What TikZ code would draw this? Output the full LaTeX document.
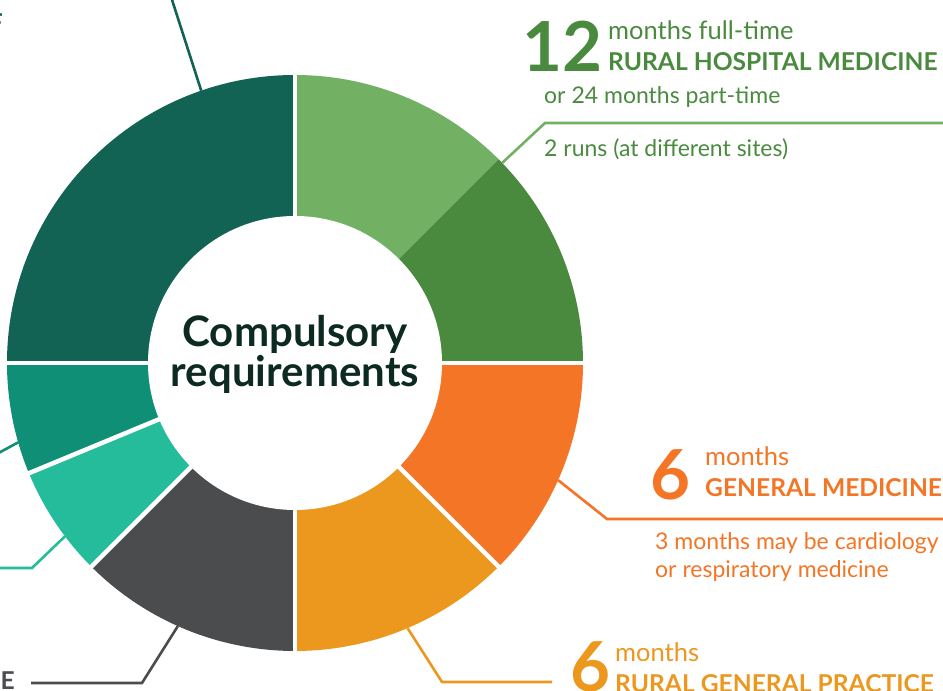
\documentclass[tikz,border=0pt]{standalone}
\usepackage{fontspec}
\setmainfont{Lato}
\usepackage{tikz}
\usetikzlibrary{
    positioning,           % Relative positioning
    calc                   % Coordinate calculations
}
\definecolor{pineGreen}{HTML}{126354}
\definecolor{leafGreen}{HTML}{72B163}
\definecolor{fernGreen}{HTML}{4A8A3F}
\definecolor{medOrange}{HTML}{F37525}
\definecolor{gpAmber}{HTML}{EC971E}
\definecolor{slateGrey}{HTML}{4B4C4E}
\definecolor{aquaGreen}{HTML}{25BC9C}
\definecolor{seaGreen}{HTML}{0F9076}
\definecolor{titleInk}{HTML}{0C2A22}

\tikzset{leader/.style={line width=2.6pt, line join=miter}}
\tikzset{ringgap/.style={white, line width=4.5pt}}
\tikzset{bignum/.style={inner sep=0pt, anchor=base west, font=\fontsize{69}{69}\selectfont\bfseries}}
\tikzset{months/.style={inner sep=0pt, anchor=base west, font=\fontsize{25.5}{28}\selectfont}}
\tikzset{note/.style={inner sep=0pt, anchor=base west, font=\fontsize{23}{26}\selectfont}}
\tikzset{rotlabel/.style={inner sep=0pt, anchor=base west, font=\fontsize{24.6}{27}\selectfont\bfseries}}
\tikzset{titletext/.style={inner sep=0pt, anchor=base, text=titleInk, font=\fontsize{42}{42}\selectfont\bfseries}}

\begin{document}
\begin{tikzpicture}[x=1pt, y=1pt]
    \useasboundingbox (0,0) rectangle (943,691);
    \coordinate (ctr) at (295,328);
    % ring segments: start / end / colour
    \foreach \a/\b/\c in {90/180/pineGreen, 45/90/leafGreen, 0/45/fernGreen, -45/0/medOrange,
        -90/-45/gpAmber, -135/-90/slateGrey, -157.5/-135/aquaGreen, -180/-157.5/seaGreen}
        \fill[\c] (ctr) -- ($(ctr)+(\a:288pt)$) arc[start angle=\a, end angle=\b, radius=288pt] -- cycle;
    % white gaps
    \foreach \a in {90, 0, -45, -90, -135, -157.5, 180}
        \draw[ringgap] (ctr) -- ($(ctr)+(\a:292pt)$);
    \fill[white] (ctr) circle[radius=147pt];
    \node[titletext] (titleA) at (295,344) {Compulsory};
    \node[titletext] (titleB) at (295,304) {requirements};

    % leader lines
    \coordinate (pineEnd) at ($(ctr)+(109:288pt)$);
    \coordinate (pineTail) at (165,713);
    \draw[leader, pineGreen] (pineEnd) -- (pineTail);
    \coordinate (rhmEnd) at ($(ctr)+(44:288pt)$);
    \coordinate (rhmBend) at (545,568);
    \coordinate (rhmTail) at (950,568);
    \draw[leader, leafGreen] (rhmEnd) -- (rhmBend) -- (rhmTail);
    \coordinate (gmEnd) at ($(ctr)+(-24:288pt)$);
    \coordinate (gmBend) at (607,172);
    \coordinate (gmTail) at (950,172);
    \draw[leader, medOrange] (gmEnd) -- (gmBend) -- (gmTail);
    \coordinate (gpEnd) at ($(ctr)+(-67:288pt)$);
    \coordinate (gpBend) at (442,9);
    \coordinate (gpTail) at (552,9);
    \draw[leader, gpAmber] (gpEnd) -- (gpBend) -- (gpTail);
    \coordinate (greyEnd) at ($(ctr)+(-114:288pt)$);
    \coordinate (greyBend) at (142,8);
    \coordinate (greyTail) at (31,8);
    \draw[leader, slateGrey] (greyEnd) -- (greyBend) -- (greyTail);
    \coordinate (aquaEnd) at ($(ctr)+(-143:288pt)$);
    \coordinate (aquaBend) at (32,123);
    \coordinate (aquaTail) at (-10,123);
    \draw[leader, aquaGreen] (aquaEnd) -- (aquaBend) -- (aquaTail);
    \coordinate (seaEnd) at ($(ctr)+(-164:288pt)$);
    \coordinate (seaTail) at (-18,229);
    \draw[leader, seaGreen] (seaEnd) -- (seaTail);

    % rural hospital medicine
    \node[bignum, text=fernGreen] (rhmNum) at (522,619) {12};
    \node[months, text=fernGreen] (rhmMonths) at (608,651) {months full-time};
    \node[rotlabel, text=fernGreen] (rhmName) at (608,620) {RURAL HOSPITAL MEDICINE};
    \node[note, text=fernGreen] (rhmPart) at (544,587) {or 24 months part-time};
    \node[note, text=fernGreen] (rhmRuns) at (544,534) {2 runs (at different sites)};
    % general medicine
    \node[bignum, text=medOrange] (gmNum) at (650,191) {6};
    \node[months, text=medOrange] (gmMonths) at (705,225) {months};
    \node[rotlabel, text=medOrange] (gmName) at (705,194) {GENERAL MEDICINE};
    \node[note, text=medOrange] (gmNote) at (655,141) {3 months may be cardiology};
    \node[note, text=medOrange] (gmNoteB) at (655,113) {or respiratory medicine};
    % rural general practice
    \node[bignum, text=gpAmber] (gpNum) at (570,-1) {6};
    \node[months, text=gpAmber] (gpMonths) at (615,29) {months};
    \node[rotlabel, text=gpAmber] (gpName) at (615,-2) {RURAL GENERAL PRACTICE};
    % cut-off labels on the left
    \node[rotlabel, anchor=base east, text=slateGrey] (greyName) at (15,1) {E};
    \node[rotlabel, anchor=base east, text=pineGreen] (pineName) at (3,659) {F};
\end{tikzpicture}
\end{document}
